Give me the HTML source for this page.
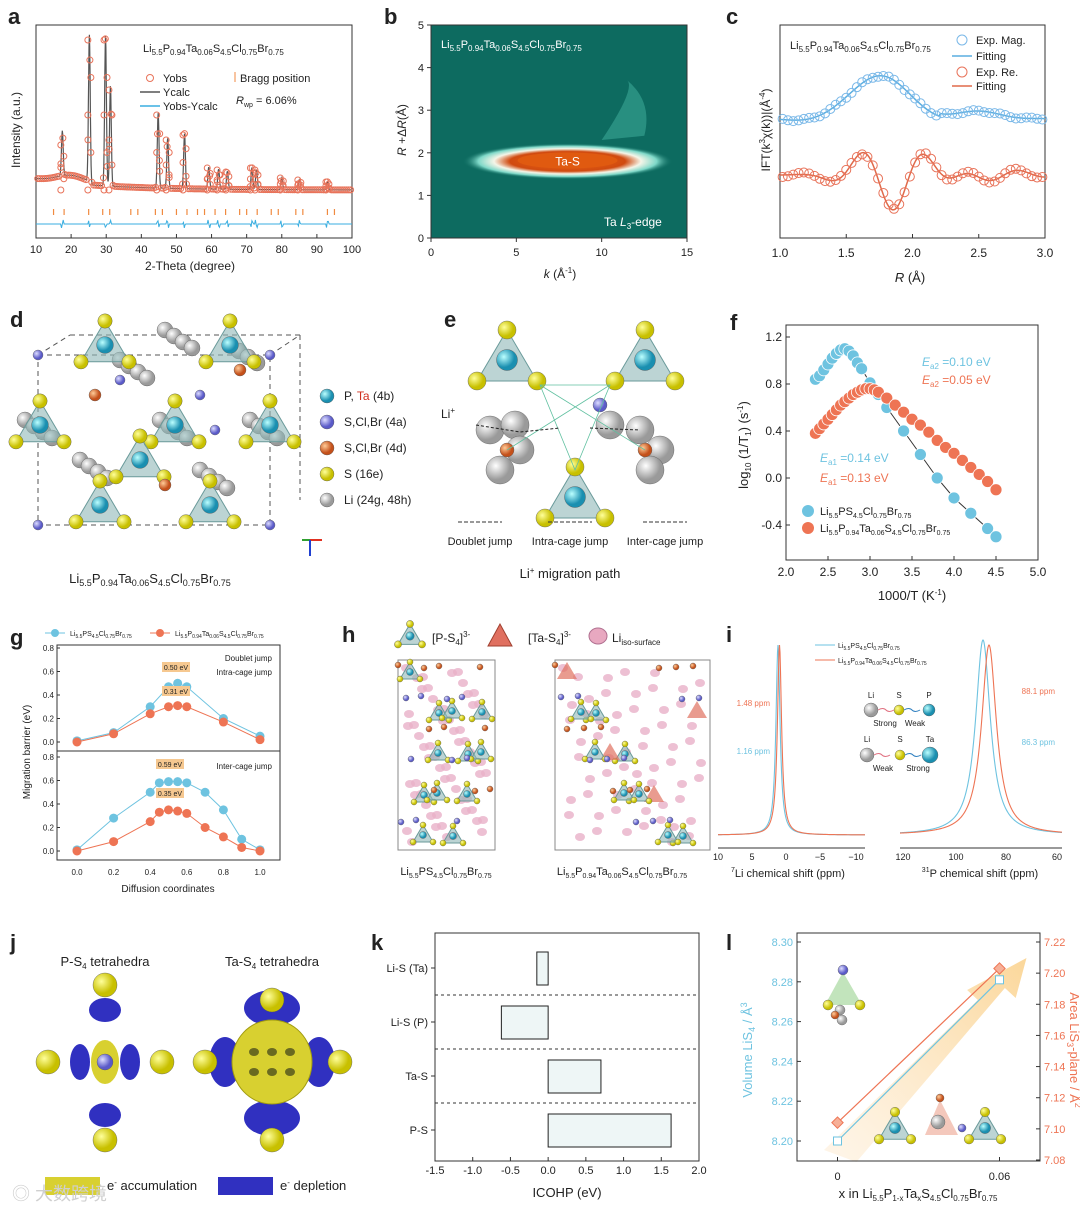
<!DOCTYPE html>
<html><head><meta charset="utf-8"><style>
body{margin:0;background:#fff;}
svg{font-family:"Liberation Sans",sans-serif;display:block;}
text{fill:#222;}
</style></head><body>
<svg id="fig" width="1080" height="1213" viewBox="0 0 1080 1213" xmlns="http://www.w3.org/2000/svg">
<defs>
<radialGradient id="gS" cx="35%" cy="35%"><stop offset="0" stop-color="#fff"/><stop offset="1" stop-color="#9a9a9a"/></radialGradient>
<radialGradient id="gY" cx="35%" cy="35%"><stop offset="0" stop-color="#ffff9a"/><stop offset="1" stop-color="#c8c000"/></radialGradient>
<radialGradient id="gB" cx="35%" cy="35%"><stop offset="0" stop-color="#bff"/><stop offset="1" stop-color="#1a8fb0"/></radialGradient>
<radialGradient id="gP" cx="35%" cy="35%"><stop offset="0" stop-color="#ddf"/><stop offset="1" stop-color="#5a5ac8"/></radialGradient>
<radialGradient id="gO" cx="35%" cy="35%"><stop offset="0" stop-color="#fc9"/><stop offset="1" stop-color="#c4501a"/></radialGradient>
<radialGradient id="gHot" cx="50%" cy="50%"><stop offset="0" stop-color="#f06a10"/><stop offset="0.55" stop-color="#d04a10"/><stop offset="0.7" stop-color="#f5f5e8"/><stop offset="0.85" stop-color="#7ed8c8"/><stop offset="1" stop-color="#0e6e62" stop-opacity="0"/></radialGradient>
<linearGradient id="gArrow" x1="0" y1="1" x2="1" y2="0"><stop offset="0" stop-color="#fde7c8" stop-opacity="0.4"/><stop offset="1" stop-color="#fbd79a"/></linearGradient>
</defs>
<g id="root"></g>
</svg>
<script>
// ===== chart data =====
const xrdPeakPos=[17.5,25.2,29.8,31.2,44.8,47.5,52.3,59.2,62.0,64.5,71.5,72.8,80,85,93];
const xrdPeakH=[45,150,150,100,75,50,55,22,20,18,22,20,12,10,8];
const braggPos=[15,18,25,29,31,37,39,44,46,50,53,56,58,61,64,68,70,73,77,79,84,86,93,95];
const fXBlue=[2.35,2.4,2.45,2.5,2.55,2.6,2.65,2.7,2.75,2.8,2.85,2.9,3.0,3.1,3.2,3.4,3.6,3.8,4.0,4.2,4.4,4.5];
const fYBlue=[0.84,0.87,0.92,0.97,1.02,1.06,1.09,1.1,1.08,1.04,0.98,0.93,0.81,0.71,0.6,0.4,0.2,0.0,-0.17,-0.3,-0.43,-0.5];
const fXRed=[2.35,2.4,2.45,2.5,2.55,2.6,2.65,2.7,2.75,2.8,2.85,2.9,2.95,3.0,3.05,3.1,3.2,3.3,3.4,3.5,3.6,3.7,3.8,3.9,4.0,4.1,4.2,4.3,4.4,4.5];
const fYRed=[0.38,0.42,0.46,0.5,0.54,0.58,0.62,0.65,0.68,0.71,0.73,0.75,0.76,0.76,0.75,0.73,0.68,0.62,0.56,0.5,0.45,0.39,0.32,0.26,0.21,0.15,0.09,0.03,-0.03,-0.1];
const gX=[0,0.2,0.4,0.5,0.55,0.6,0.8,1.0];
const gTopBlue=[0.01,0.08,0.3,0.47,0.5,0.47,0.2,0.05];
const gTopRed=[0.0,0.07,0.24,0.3,0.31,0.3,0.17,0.02];
const gBX=[0,0.2,0.4,0.45,0.5,0.55,0.6,0.7,0.8,0.9,1.0];
const gBotBlue=[0.01,0.28,0.5,0.58,0.59,0.59,0.58,0.5,0.35,0.1,0.01];
const gBotRed=[0.0,0.08,0.25,0.33,0.35,0.34,0.32,0.2,0.12,0.03,0.0];
const kLabels=["Li-S (Ta)","Li-S (P)","Ta-S","P-S"];
const kValues=[-0.15,-0.62,0.7,1.63];
const kTicks=[-1.5,-1.0,-0.5,0.0,0.5,1.0,1.5,2.0];
const lX=[0,0.06];
const lVol=[8.2,8.281];
const lArea=[7.104,7.203];

const root=document.getElementById('root');
const NS='http://www.w3.org/2000/svg';
function mk(tag,attrs,parent){const e=document.createElementNS(NS,tag);for(const k in attrs)e.setAttribute(k,attrs[k]);(parent||root).appendChild(e);return e;}
function tx(x,y,s,size,opt){opt=opt||{};const e=mk('text',Object.assign({x:x,y:y,'font-size':size},opt));e.innerHTML=s;return e;}
function lin(a,b,c,d){return v=>c+(v-a)*(d-c)/(b-a);}
function label(L,x,y){const e=tx(x,y,L,22,{'font-weight':'bold'});}
function frame(x,y,w,h,name){const e=mk('rect',{x:x,y:y,width:w,height:h,fill:'none',stroke:'#333','stroke-width':1});}
function atom(cx,cy,r,g){mk('circle',{cx:cx,cy:cy,r:r,fill:'url(#'+g+')',stroke:'#555','stroke-width':0.4});}
function tet(cx,cy,s){mk('polygon',{points:`${cx},${cy-s} ${cx-s},${cy+s*0.7} ${cx+s},${cy+s*0.7}`,fill:'#8fb8b8','fill-opacity':0.6,stroke:'#6a9a9a'});atom(cx,cy,s*0.35,'gB');atom(cx,cy-s,s*0.3,'gY');atom(cx-s,cy+s*0.7,s*0.3,'gY');atom(cx+s,cy+s*0.7,s*0.3,'gY');}

// ===== panel a =====
label('a',8,24);
(function(){const X=lin(10,100,36,352),x0=36,y0=25,w=316,h=213;frame(x0,y0,w,h,'panel-a-frame');
for(let v=10;v<=100;v+=10){mk('line',{x1:X(v),y1:238,x2:X(v),y2:234,stroke:'#333'});tx(X(v),253,v,11,{'text-anchor':'middle'});}
tx(190,270,'2-Theta (degree)',12,{'text-anchor':'middle'});
tx(20,130,'Intensity (a.u.)',12,{'text-anchor':'middle',transform:'rotate(-90 20 130)'});
function prof(t){let y=190-10*Math.exp(-(t-12)/20)+ (t<25?-8*Math.exp(-Math.pow((t-20)/6,2)):0);xrdPeakPos.forEach((p,i)=>{y-=xrdPeakH[i]*Math.exp(-Math.pow((t-p)/0.35,2));});return y;}
let d='';for(let t=10;t<=100;t+=0.1){d+=(t===10?'M':'L')+X(t).toFixed(1)+','+prof(t).toFixed(1);}
const pc=mk('path',{d:d,fill:'none',stroke:'#555','stroke-width':1.2});
for(let t=10.5;t<100;t+=0.55){mk('circle',{cx:X(t),cy:prof(t),r:3,fill:'none',stroke:'#e8735a','stroke-width':1});}
xrdPeakPos.forEach((p,i)=>{for(let k=0;k<5;k++){mk('circle',{cx:X(p)+(k%2?1.5:-1.5),cy:190-xrdPeakH[i]*k/4,r:3,fill:'none',stroke:'#e8735a'});}});
braggPos.forEach(p=>{mk('line',{x1:X(p),y1:209,x2:X(p),y2:215,stroke:'#f08a40','stroke-width':1.2});});
let dd='';for(let t=10;t<=100;t+=0.25){let off=0;xrdPeakPos.forEach(p=>{if(Math.abs(t-p)<0.3)off=4*Math.sin(t*7);});dd+=(t===10?'M':'L')+X(t).toFixed(1)+','+(224+off).toFixed(1);}
const dl=mk('path',{d:dd,fill:'none',stroke:'#3aaee0','stroke-width':1});
tx(143,52,'Li<tspan font-size="8" dy="3">5.5</tspan><tspan dy="-3">P</tspan><tspan font-size="8" dy="3">0.94</tspan><tspan dy="-3">Ta</tspan><tspan font-size="8" dy="3">0.06</tspan><tspan dy="-3">S</tspan><tspan font-size="8" dy="3">4.5</tspan><tspan dy="-3">Cl</tspan><tspan font-size="8" dy="3">0.75</tspan><tspan dy="-3">Br</tspan><tspan font-size="8" dy="3">0.75</tspan>',11);
mk('circle',{cx:150,cy:78,r:3.5,fill:'none',stroke:'#e8735a'});tx(163,82,'Yobs',11);
mk('line',{x1:140,y1:92,x2:160,y2:92,stroke:'#555','stroke-width':1.5});tx(163,96,'Ycalc',11);
mk('line',{x1:140,y1:106,x2:160,y2:106,stroke:'#3aaee0','stroke-width':1.5});tx(163,110,'Yobs-Ycalc',11);
mk('line',{x1:235,y1:72,x2:235,y2:82,stroke:'#f08a40'});tx(240,82,'Bragg position',11);
tx(236,104,'<tspan font-style="italic">R</tspan><tspan font-size="7" dy="3">wp</tspan><tspan dy="-3"> = 6.06%</tspan>',11);
})();

// ===== panel b =====
label('b',384,24);
(function(){const X=lin(0,15,431,687),Y=lin(0,5,238,25);
const bg=mk('rect',{x:431,y:25,width:256,height:213,fill:'#0d6b60'});
mk('path',{d:`M${X(10)},${Y(2.3)} Q${X(12)},${Y(3.5)} ${X(11.5)},${Y(3.7)} Q${X(13)},${Y(3.2)} ${X(12.5)},${Y(2.4)} Z`,fill:'#3aa696','fill-opacity':0.6});
mk('ellipse',{cx:X(8),cy:Y(1.8),rx:105,ry:18,fill:'url(#gHot)'});
mk('ellipse',{cx:X(8),cy:Y(1.82),rx:50,ry:8,fill:'#e05a10'});
tx(X(8),Y(1.7),'Ta-S',12,{'text-anchor':'middle',fill:'#fff',style:'fill:#fff'});
frame(431,25,256,213,'panel-b-frame');
for(let v=0;v<=15;v+=5){mk('line',{x1:X(v),y1:238,x2:X(v),y2:242,stroke:'#333'});tx(X(v),256,v,11,{'text-anchor':'middle'});}
for(let v=0;v<=5;v++){mk('line',{x1:427,y1:Y(v),x2:431,y2:Y(v),stroke:'#333'});tx(424,Y(v)+4,v,11,{'text-anchor':'end'});}
tx(560,278,'<tspan font-style="italic">k</tspan> (Å<tspan font-size="8" dy="-5">-1</tspan><tspan dy="5">)</tspan>',12,{'text-anchor':'middle'});
tx(406,130,'<tspan font-style="italic">R</tspan> +Δ<tspan font-style="italic">R</tspan>(Å)',12,{'text-anchor':'middle',transform:'rotate(-90 406 130)'});
tx(441,48,'Li<tspan font-size="8" dy="3">5.5</tspan><tspan dy="-3">P</tspan><tspan font-size="8" dy="3">0.94</tspan><tspan dy="-3">Ta</tspan><tspan font-size="8" dy="3">0.06</tspan><tspan dy="-3">S</tspan><tspan font-size="8" dy="3">4.5</tspan><tspan dy="-3">Cl</tspan><tspan font-size="8" dy="3">0.75</tspan><tspan dy="-3">Br</tspan><tspan font-size="8" dy="3">0.75</tspan>',11,{style:'fill:#fff'});
tx(604,226,'Ta <tspan font-style="italic">L</tspan><tspan font-size="8" dy="3">3</tspan><tspan dy="-3">-edge</tspan>',12,{style:'fill:#fff'});
})();

// ===== panel c =====
label('c',726,24);
(function(){const X=lin(1,3,780,1045);frame(780,25,265,213,'panel-c-frame');
for(let v=1;v<=3.001;v+=0.5){mk('line',{x1:X(v),y1:238,x2:X(v),y2:234,stroke:'#333'});tx(X(v),257,v.toFixed(1),12,{'text-anchor':'middle'});}
tx(910,282,'<tspan font-style="italic">R</tspan> (Å)',13,{'text-anchor':'middle'});
tx(770,130,'IFT(k<tspan font-size="8" dy="-5">3</tspan><tspan dy="5">χ(k))|(Å</tspan><tspan font-size="8" dy="-5">-4</tspan><tspan dy="5">)</tspan>',12,{'text-anchor':'middle',transform:'rotate(-90 770 130)'});
const mag=r=>120-45*Math.exp(-Math.pow((r-1.75)/0.3,2))+3*Math.sin(r*12)*0.3+(r>2.2?-8*Math.exp(-Math.pow((r-2.5)/0.3,2)):0);
const re=r=>175-Math.sin((r-1.48)*Math.PI/0.25*1.0)*35*Math.exp(-Math.pow((r-1.85)/0.35,2))-6*Math.sin(r*14)*Math.exp(-Math.pow((r-2.6)/0.4,2));
let d1='',d2='';for(let r=1;r<=3;r+=0.01){d1+=(r===1?'M':'L')+X(r)+','+mag(r);d2+=(r===1?'M':'L')+X(r)+','+re(r);}
const m=mk('path',{d:d1,fill:'none',stroke:'#5aaee0','stroke-width':1.5});
const rr=mk('path',{d:d2,fill:'none',stroke:'#e06a4a','stroke-width':1.5});
for(let r=1.02;r<3;r+=0.04){mk('circle',{cx:X(r),cy:mag(r)+Math.sin(r*30),r:4.5,fill:'none',stroke:'#7ab8e8'});mk('circle',{cx:X(r),cy:re(r)+Math.sin(r*20)*2,r:4.5,fill:'none',stroke:'#e8735a'});}
tx(790,49,'Li<tspan font-size="8" dy="3">5.5</tspan><tspan dy="-3">P</tspan><tspan font-size="8" dy="3">0.94</tspan><tspan dy="-3">Ta</tspan><tspan font-size="8" dy="3">0.06</tspan><tspan dy="-3">S</tspan><tspan font-size="8" dy="3">4.5</tspan><tspan dy="-3">Cl</tspan><tspan font-size="8" dy="3">0.75</tspan><tspan dy="-3">Br</tspan><tspan font-size="8" dy="3">0.75</tspan>',11);
mk('circle',{cx:962,cy:40,r:5,fill:'none',stroke:'#7ab8e8'});tx(976,44,'Exp. Mag.',11);
mk('line',{x1:952,y1:56,x2:972,y2:56,stroke:'#5aaee0','stroke-width':1.5});tx(976,60,'Fitting',11);
mk('circle',{cx:962,cy:72,r:5,fill:'none',stroke:'#e8735a'});tx(976,76,'Exp. Re.',11);
mk('line',{x1:952,y1:86,x2:972,y2:86,stroke:'#e06a4a','stroke-width':1.5});tx(976,90,'Fitting',11);
})();

// ===== panel d =====
label('d',10,327);
(function(){mk('path',{d:'M38,355 L270,355 L270,525 L38,525 Z M70,335 L300,335 M38,355 L70,335 M270,355 L300,335 M300,335 L300,500',fill:'none',stroke:'#555','stroke-dasharray':'5,4'});
[[140,360],[185,330],[250,345],[180,420],[100,460],[220,470],[45,420],[270,420]].forEach(p=>{for(let k=0;k<4;k++)atom(p[0]-20+k*9,p[1]+k*6,8,'gS');});
[[105,345],[230,345],[175,425],[40,425],[270,425],[100,505],[210,505],[140,460]].forEach(p=>tet(p[0],p[1],24));
[[38,355],[270,355],[38,525],[270,525],[200,395],[120,380],[215,430]].forEach(p=>atom(p[0],p[1],5,'gP'));
[[95,395],[240,370],[165,485]].forEach(p=>atom(p[0],p[1],6,'gO'));
const items=[['gB','P, <tspan fill="#d03020" style="fill:#d03020">Ta</tspan> (4b)'],['gP','S,Cl,Br (4a)'],['gO','S,Cl,Br (4d)'],['gY','S (16e)'],['gS','Li (24g, 48h)']];
items.forEach((it,i)=>{atom(327,396+i*26,7,it[0]);tx(344,400+i*26,it[1],12);});
mk('line',{x1:310,y1:540,x2:322,y2:540,stroke:'#e03020','stroke-width':2});mk('line',{x1:310,y1:540,x2:302,y2:540,stroke:'#30a030','stroke-width':2});mk('line',{x1:310,y1:540,x2:310,y2:556,stroke:'#2040d0','stroke-width':2});
tx(150,583,'Li<tspan font-size="9" dy="3">5.5</tspan><tspan dy="-3">P</tspan><tspan font-size="9" dy="3">0.94</tspan><tspan dy="-3">Ta</tspan><tspan font-size="9" dy="3">0.06</tspan><tspan dy="-3">S</tspan><tspan font-size="9" dy="3">4.5</tspan><tspan dy="-3">Cl</tspan><tspan font-size="9" dy="3">0.75</tspan><tspan dy="-3">Br</tspan><tspan font-size="9" dy="3">0.75</tspan>',13,{'text-anchor':'middle'});
})();

// ===== panel e =====
label('e',444,327);
(function(){tet(507,360,30);tet(645,360,30);tet(575,497,30);
[[490,430],[515,425],[520,450],[640,430],[610,425],[660,450],[500,470],[650,470]].forEach(p=>atom(p[0],p[1],14,'gS'));
atom(507,450,7,'gO');atom(645,450,7,'gO');atom(600,405,7,'gP');
mk('path',{d:'M540,385 L610,385 L575,470 Z M540,385 L645,450 M610,385 L507,450',fill:'none',stroke:'#60c0a0','stroke-width':0.8});
tx(441,418,'Li<tspan font-size="8" dy="-5">+</tspan>',12);
mk('path',{d:'M476,425 L520,432 L560,428 M590,428 L640,430',fill:'none',stroke:'#222','stroke-dasharray':'3,2'});
[['Doublet jump',480],['Intra-cage jump',570],['Inter-cage jump',665]].forEach(a=>{mk('line',{x1:a[1]-22,y1:522,x2:a[1]+22,y2:522,stroke:'#333','stroke-dasharray':'4,2'});tx(a[1],545,a[0],11,{'text-anchor':'middle'});});
tx(570,578,'Li<tspan font-size="8" dy="-5">+</tspan><tspan dy="5"> migration path</tspan>',13,{'text-anchor':'middle'});
})();

// ===== panel f =====
label('f',730,330);
(function(){const X=lin(2,5,786,1038),Y=lin(-0.4,1.2,525,337);frame(786,325,252,235,'panel-f-frame');
for(let v=2;v<=5.001;v+=0.5){mk('line',{x1:X(v),y1:560,x2:X(v),y2:556,stroke:'#333'});tx(X(v),568+8,v.toFixed(1),12,{'text-anchor':'middle'});}
for(let v=-0.4;v<=1.201;v+=0.4){mk('line',{x1:786,y1:Y(v),x2:790,y2:Y(v),stroke:'#333'});tx(782,Y(v)+4,Math.abs(v)<1e-6?'0.0':v.toFixed(1),12,{'text-anchor':'end'});}
tx(912,600,'1000/T (K<tspan font-size="8" dy="-5">-1</tspan><tspan dy="5">)</tspan>',13,{'text-anchor':'middle'});
tx(748,445,'log<tspan font-size="8" dy="3">10</tspan><tspan dy="-3"> (1/T</tspan><tspan font-size="8" dy="3">1</tspan><tspan dy="-3">) (s</tspan><tspan font-size="8" dy="-5">-1</tspan><tspan dy="5">)</tspan>',13,{'text-anchor':'middle',transform:'rotate(-90 748 445)'});
function series(xs,ys,col,name){let d='';xs.forEach((x,i)=>{d+=(i?'L':'M')+X(x)+','+Y(ys[i]);});const p=mk('path',{d:d,fill:'none',stroke:'#333','stroke-width':1});
xs.forEach((x,i)=>{const c=mk('circle',{cx:X(x),cy:Y(ys[i]),r:6,fill:col,stroke:'#fff','stroke-width':0.8});});}
series(fXBlue,fYBlue,'#6ec3e0','blue-series');series(fXRed,fYRed,'#ee7454','red-series');
tx(922,366,'<tspan font-style="italic">E</tspan><tspan font-size="8" dy="3">a2</tspan><tspan dy="-3"> =0.10 eV</tspan>',12,{style:'fill:#6ec3e0'});
tx(922,384,'<tspan font-style="italic">E</tspan><tspan font-size="8" dy="3">a2</tspan><tspan dy="-3"> =0.05 eV</tspan>',12,{style:'fill:#ee7454'});
tx(820,462,'<tspan font-style="italic">E</tspan><tspan font-size="8" dy="3">a1</tspan><tspan dy="-3"> =0.14 eV</tspan>',12,{style:'fill:#6ec3e0'});
tx(820,482,'<tspan font-style="italic">E</tspan><tspan font-size="8" dy="3">a1</tspan><tspan dy="-3"> =0.13 eV</tspan>',12,{style:'fill:#ee7454'});
mk('circle',{cx:808,cy:511,r:6,fill:'#6ec3e0'});tx(820,515,'Li<tspan font-size="7" dy="3">5.5</tspan><tspan dy="-3">PS</tspan><tspan font-size="7" dy="3">4.5</tspan><tspan dy="-3">Cl</tspan><tspan font-size="7" dy="3">0.75</tspan><tspan dy="-3">Br</tspan><tspan font-size="7" dy="3">0.75</tspan>',11);
mk('circle',{cx:808,cy:528,r:6,fill:'#ee7454'});tx(820,532,'Li<tspan font-size="7" dy="3">5.5</tspan><tspan dy="-3">P</tspan><tspan font-size="7" dy="3">0.94</tspan><tspan dy="-3">Ta</tspan><tspan font-size="7" dy="3">0.06</tspan><tspan dy="-3">S</tspan><tspan font-size="7" dy="3">4.5</tspan><tspan dy="-3">Cl</tspan><tspan font-size="7" dy="3">0.75</tspan><tspan dy="-3">Br</tspan><tspan font-size="7" dy="3">0.75</tspan>',11);
})();

// ===== panel g =====
label('g',10,645);
(function(){const X=lin(0,1,77,260);frame(57,645,223,215,'panel-g-frame');mk('line',{x1:57,y1:751,x2:280,y2:751,stroke:'#333'});
const Yt=lin(0,0.8,742,648),Yb=lin(0,0.8,851,757);
[Yt,Yb].forEach(Y=>{for(let v=0;v<=0.801;v+=0.2){mk('line',{x1:57,y1:Y(v),x2:60,y2:Y(v),stroke:'#333'});tx(54,Y(v)+3,v.toFixed(1),8,{'text-anchor':'end'});}});
for(let v=0;v<=1.001;v+=0.2){tx(X(v),875,v.toFixed(1),8,{'text-anchor':'middle'});}
tx(168,892,'Diffusion coordinates',10,{'text-anchor':'middle'});
tx(30,752,'Migration barrier (eV)',10,{'text-anchor':'middle',transform:'rotate(-90 30 752)'});
function s(xs,ys,Y,col,name){let d='';xs.forEach((x,i)=>{d+=(i?'L':'M')+X(x)+','+Y(ys[i]);});mk('path',{d:d,fill:'none',stroke:col,'stroke-width':1});xs.forEach((x,i)=>{const c=mk('circle',{cx:X(x),cy:Y(ys[i]),r:4.5,fill:col});});}
s(gX,gTopBlue,Yt,'#6ec3e0','g-top-blue-point');s(gX,gTopRed,Yt,'#ee7454','g-top-red-point');
s(gBX,gBotBlue,Yb,'#6ec3e0','g-bottom-blue-point');s(gBX,gBotRed,Yb,'#ee7454','g-bottom-red-point');
[[176,670,'0.50 eV'],[176,694,'0.31 eV'],[170,767,'0.59 eV'],[170,796,'0.35 eV']].forEach(b=>{mk('rect',{x:b[0]-14,y:b[1]-8,width:28,height:10,fill:'#f6c890'});tx(b[0],b[1],b[2],7,{'text-anchor':'middle'});});
tx(272,661,'Doublet jump',8,{'text-anchor':'end'});tx(272,675,'Intra-cage jump',8,{'text-anchor':'end'});tx(272,769,'Inter-cage jump',8,{'text-anchor':'end'});
mk('line',{x1:45,y1:633,x2:65,y2:633,stroke:'#6ec3e0'});mk('circle',{cx:55,cy:633,r:4,fill:'#6ec3e0'});tx(70,636,'Li<tspan font-size="5" dy="2">5.5</tspan><tspan dy="-2">PS</tspan><tspan font-size="5" dy="2">4.5</tspan><tspan dy="-2">Cl</tspan><tspan font-size="5" dy="2">0.75</tspan><tspan dy="-2">Br</tspan><tspan font-size="5" dy="2">0.75</tspan>',7);
mk('line',{x1:150,y1:633,x2:170,y2:633,stroke:'#ee7454'});mk('circle',{cx:160,cy:633,r:4,fill:'#ee7454'});tx(175,636,'Li<tspan font-size="5" dy="2">5.5</tspan><tspan dy="-2">P</tspan><tspan font-size="5" dy="2">0.94</tspan><tspan dy="-2">Ta</tspan><tspan font-size="5" dy="2">0.06</tspan><tspan dy="-2">S</tspan><tspan font-size="5" dy="2">4.5</tspan><tspan dy="-2">Cl</tspan><tspan font-size="5" dy="2">0.75</tspan><tspan dy="-2">Br</tspan><tspan font-size="5" dy="2">0.75</tspan>',7);
})();

// ===== panel h =====
label('h',342,642);
(function(){tet(410,636,12);tx(432,642,'[P-S<tspan font-size="8" dy="3">4</tspan><tspan dy="-3">]</tspan><tspan font-size="8" dy="-5">3-</tspan>',12);
mk('polygon',{points:'500,624 488,646 512,646',fill:'#e07060',stroke:'#a04030'});tx(528,642,'[Ta-S<tspan font-size="8" dy="3">4</tspan><tspan dy="-3">]</tspan><tspan font-size="8" dy="-5">3-</tspan>',12);
mk('ellipse',{cx:598,cy:636,rx:9,ry:8,fill:'#e8a8c0',stroke:'#b07090'});tx(612,642,'Li<tspan font-size="8" dy="3">iso-surface</tspan>',12);
[[398,495],[555,710]].forEach((b,j)=>{mk('rect',{x:b[0],y:660,width:b[1]-b[0],height:190,fill:'none',stroke:'#888'});
for(let i=0;i<60;i++){const x=b[0]+8+((i*37)%(b[1]-b[0]-16)),y=668+((i*53)%175);mk('ellipse',{cx:x,cy:y,rx:5,ry:4,fill:'#e8b0c8','fill-opacity':0.8});}
for(let i=0;i<12;i++){const x=b[0]+12+((i*29)%(b[1]-b[0]-24)),y=672+((i*41)%165);if(j===1&&i%3===0)mk('polygon',{points:`${x},${y-10} ${x-10},${y+7} ${x+10},${y+7}`,fill:'#e07060','fill-opacity':0.7});else tet(x,y,10);}
for(let i=0;i<20;i++){atom(b[0]+((i*23)%(b[1]-b[0])),665+((i*31)%185),3,i%2?'gP':'gO');}});
tx(446,875,'Li<tspan font-size="7" dy="3">5.5</tspan><tspan dy="-3">PS</tspan><tspan font-size="7" dy="3">4.5</tspan><tspan dy="-3">Cl</tspan><tspan font-size="7" dy="3">0.75</tspan><tspan dy="-3">Br</tspan><tspan font-size="7" dy="3">0.75</tspan>',11,{'text-anchor':'middle'});
tx(622,875,'Li<tspan font-size="7" dy="3">5.5</tspan><tspan dy="-3">P</tspan><tspan font-size="7" dy="3">0.94</tspan><tspan dy="-3">Ta</tspan><tspan font-size="7" dy="3">0.06</tspan><tspan dy="-3">S</tspan><tspan font-size="7" dy="3">4.5</tspan><tspan dy="-3">Cl</tspan><tspan font-size="7" dy="3">0.75</tspan><tspan dy="-3">Br</tspan><tspan font-size="7" dy="3">0.75</tspan>',11,{'text-anchor':'middle'});
})();

// ===== panel i =====
label('i',726,642);
(function(){const base=835;
function pk(x0,x1,c,w,h,col){let d='';for(let x=x0;x<=x1;x+=0.5){d+=(x===x0?'M':'L')+x+','+(base-h/(1+Math.pow((x-c)/w,2)));}mk('path',{d:d,fill:'none',stroke:col,'stroke-width':1.1});}
pk(718,865,778,2.5,190,'#6ec3e0');pk(718,865,779.5,2.5,190,'#ee7454');
pk(900,1062,983,9,195,'#6ec3e0');pk(900,1062,989,9,190,'#ee7454');
mk('line',{x1:718,y1:848,x2:865,y2:848,stroke:'#333'});mk('line',{x1:900,y1:848,x2:1062,y2:848,stroke:'#333'});
[[718,'10'],[752,'5'],[786,'0'],[820,'−5'],[856,'−10']].forEach(t=>tx(t[0],860,t[1],9,{'text-anchor':'middle'}));
[[903,'120'],[956,'100'],[1006,'80'],[1057,'60']].forEach(t=>tx(t[0],860,t[1],9,{'text-anchor':'middle'}));
tx(788,877,'<tspan font-size="7" dy="-5">7</tspan><tspan dy="5">Li chemical shift (ppm)</tspan>',11,{'text-anchor':'middle'});
tx(980,877,'<tspan font-size="7" dy="-5">31</tspan><tspan dy="5">P chemical shift (ppm)</tspan>',11,{'text-anchor':'middle'});
tx(770,706,'1.48 ppm',8,{'text-anchor':'end',style:'fill:#ee7454'});tx(770,754,'1.16 ppm',8,{'text-anchor':'end',style:'fill:#6ec3e0'});
tx(1055,694,'88.1 ppm',8,{'text-anchor':'end',style:'fill:#ee7454'});tx(1055,745,'86.3 ppm',8,{'text-anchor':'end',style:'fill:#6ec3e0'});
mk('line',{x1:815,y1:645,x2:835,y2:645,stroke:'#6ec3e0'});tx(838,648,'Li<tspan font-size="5" dy="2">5.5</tspan><tspan dy="-2">PS</tspan><tspan font-size="5" dy="2">4.5</tspan><tspan dy="-2">Cl</tspan><tspan font-size="5" dy="2">0.75</tspan><tspan dy="-2">Br</tspan><tspan font-size="5" dy="2">0.75</tspan>',7);
mk('line',{x1:815,y1:660,x2:835,y2:660,stroke:'#ee7454'});tx(838,663,'Li<tspan font-size="5" dy="2">5.5</tspan><tspan dy="-2">P</tspan><tspan font-size="5" dy="2">0.94</tspan><tspan dy="-2">Ta</tspan><tspan font-size="5" dy="2">0.06</tspan><tspan dy="-2">S</tspan><tspan font-size="5" dy="2">4.5</tspan><tspan dy="-2">Cl</tspan><tspan font-size="5" dy="2">0.75</tspan><tspan dy="-2">Br</tspan><tspan font-size="5" dy="2">0.75</tspan>',7);
atom(871,710,7,'gS');atom(899,710,5,'gY');atom(929,710,6,'gB');mk('path',{d:'M878,710 q5,-3 8,0 t8,0',stroke:'#e07080',fill:'none'});mk('path',{d:'M904,710 q5,-3 8,0 t8,0',stroke:'#3080c0',fill:'none'});
tx(871,698,'Li',8,{'text-anchor':'middle'});tx(899,698,'S',8,{'text-anchor':'middle'});tx(929,698,'P',8,{'text-anchor':'middle'});tx(885,726,'Strong',8,{'text-anchor':'middle'});tx(915,726,'Weak',8,{'text-anchor':'middle'});
atom(867,755,7,'gS');atom(900,755,5,'gY');atom(930,755,8,'gB');mk('path',{d:'M874,755 q5,-3 8,0 t8,0',stroke:'#e07080',fill:'none'});mk('path',{d:'M905,755 q5,-3 8,0 t8,0',stroke:'#3080c0',fill:'none'});
tx(867,742,'Li',8,{'text-anchor':'middle'});tx(900,742,'S',8,{'text-anchor':'middle'});tx(930,742,'Ta',8,{'text-anchor':'middle'});tx(883,771,'Weak',8,{'text-anchor':'middle'});tx(918,771,'Strong',8,{'text-anchor':'middle'});
})();

// ===== panel j =====
label('j',10,950);
(function(){tx(105,966,'P-S<tspan font-size="8" dy="3">4</tspan><tspan dy="-3"> tetrahedra</tspan>',13,{'text-anchor':'middle'});
tx(272,966,'Ta-S<tspan font-size="8" dy="3">4</tspan><tspan dy="-3"> tetrahedra</tspan>',13,{'text-anchor':'middle'});
mk('ellipse',{cx:105,cy:1010,rx:16,ry:12,fill:'#3030c0'});mk('ellipse',{cx:105,cy:1115,rx:16,ry:12,fill:'#3030c0'});mk('ellipse',{cx:80,cy:1062,rx:10,ry:18,fill:'#3030c0'});mk('ellipse',{cx:130,cy:1062,rx:10,ry:18,fill:'#3030c0'});
mk('ellipse',{cx:105,cy:1062,rx:14,ry:22,fill:'#d8d030'});atom(105,1062,8,'gP');
[[105,985],[105,1140],[48,1062],[162,1062]].forEach(p=>atom(p[0],p[1],12,'gY'));
mk('ellipse',{cx:272,cy:1008,rx:28,ry:18,fill:'#3030c0'});mk('ellipse',{cx:272,cy:1118,rx:28,ry:18,fill:'#3030c0'});mk('ellipse',{cx:225,cy:1062,rx:16,ry:25,fill:'#3030c0'});mk('ellipse',{cx:319,cy:1062,rx:16,ry:25,fill:'#3030c0'});
mk('ellipse',{cx:272,cy:1062,rx:40,ry:42,fill:'#d8d030',stroke:'#a09a10'});
for(let i=0;i<6;i++)mk('ellipse',{cx:254+(i%3)*18,cy:1052+Math.floor(i/3)*20,rx:5,ry:4,fill:'#6a6a20'});
[[272,1000],[272,1140],[205,1062],[340,1062]].forEach(p=>atom(p[0],p[1],12,'gY'));
mk('rect',{x:45,y:1177,width:55,height:18,fill:'#d8d030'});tx(107,1190,'e<tspan font-size="8" dy="-5">-</tspan><tspan dy="5"> accumulation</tspan>',13);
mk('rect',{x:218,y:1177,width:55,height:18,fill:'#3030c0'});tx(280,1190,'e<tspan font-size="8" dy="-5">-</tspan><tspan dy="5"> depletion</tspan>',13);
})();

// ===== panel k =====
label('k',371,950);
(function(){const X=lin(-1.5,2,435,699),x0=435,y0=933,w=264,h=228;frame(x0,y0,w,h,'panel-k-frame');
[995,1049,1103].forEach(y=>mk('line',{x1:435,y1:y,x2:699,y2:y,stroke:'#333','stroke-dasharray':'3,3'}));
kTicks.forEach(v=>{mk('line',{x1:X(v),y1:1161,x2:X(v),y2:1157,stroke:'#333'});tx(X(v),1174,v.toFixed(1),11,{'text-anchor':'middle'});});
tx(567,1197,'ICOHP (eV)',13,{'text-anchor':'middle'});
kValues.forEach((v,i)=>{const yc=968+i*54;const b=mk('rect',{x:Math.min(X(0),X(v)),y:yc-16,width:Math.abs(X(v)-X(0)),height:33,fill:'#eef6f6',stroke:'#222'});
mk('line',{x1:431,y1:yc,x2:435,y2:yc,stroke:'#333'});tx(428,yc+4,kLabels[i],11,{'text-anchor':'end'});});
})();

// ===== panel l =====
label('l',726,950);
(function(){const X=lin(-0.015,0.075,797,1040),Yv=lin(8.2,8.3,1141,942),Ya=lin(7.08,7.22,1160,942);
mk('polygon',{points:`${X(-0.005)},1150 ${X(0.052)},1000 ${X(0.048)},990 ${X(0.07)},958 ${X(0.066)},998 ${X(0.062)},988 ${X(0.007)},1162`,fill:'url(#gArrow)'});
frame(797,933,243,228,'panel-l-frame');
for(let v=8.2;v<=8.3001;v+=0.02){mk('line',{x1:797,y1:Yv(v),x2:801,y2:Yv(v),stroke:'#333'});tx(793,Yv(v)+4,v.toFixed(2),11,{'text-anchor':'end',style:'fill:#6ec3e0'});}
for(let v=7.08;v<=7.2201;v+=0.02){mk('line',{x1:1036,y1:Ya(v),x2:1040,y2:Ya(v),stroke:'#333'});tx(1044,Ya(v)+4,v.toFixed(2),11,{style:'fill:#ee7454'});}
lX.forEach(v=>{tx(X(v),1180,v===0?'0':v,11,{'text-anchor':'middle'});mk('line',{x1:X(v),y1:1161,x2:X(v),y2:1157,stroke:'#333'});});
tx(918,1198,'x in Li<tspan font-size="8" dy="3">5.5</tspan><tspan dy="-3">P</tspan><tspan font-size="8" dy="3">1-x</tspan><tspan dy="-3">Ta</tspan><tspan font-size="8" dy="3">x</tspan><tspan dy="-3">S</tspan><tspan font-size="8" dy="3">4.5</tspan><tspan dy="-3">Cl</tspan><tspan font-size="8" dy="3">0.75</tspan><tspan dy="-3">Br</tspan><tspan font-size="8" dy="3">0.75</tspan>',13,{'text-anchor':'middle'});
tx(752,1050,'Volume LiS<tspan font-size="9" dy="3">4</tspan><tspan dy="-3"> / Å</tspan><tspan font-size="9" dy="-5">3</tspan>',13,{'text-anchor':'middle',transform:'rotate(-90 752 1050)',style:'fill:#6ec3e0'});
tx(1070,1050,'Area LiS<tspan font-size="9" dy="3">3</tspan><tspan dy="-3">-plane / Å</tspan><tspan font-size="9" dy="-5">2</tspan>',13,{'text-anchor':'middle',transform:'rotate(90 1070 1050)',style:'fill:#ee7454'});
let d1='',d2='';lX.forEach((v,i)=>{d1+=(i?'L':'M')+X(v)+','+Yv(lVol[i]);d2+=(i?'L':'M')+X(v)+','+Ya(lArea[i]);});
mk('path',{d:d1,stroke:'#6ec3e0',fill:'none','stroke-width':1.2});mk('path',{d:d2,stroke:'#ee7454',fill:'none','stroke-width':1.2});
lX.forEach((v,i)=>{const a=mk('rect',{x:X(v)-4,y:Yv(lVol[i])-4,width:8,height:8,fill:'#fff',stroke:'#6ec3e0'});
const b=mk('rect',{x:X(v)-4,y:Ya(lArea[i])-4,width:8,height:8,fill:'#f6b098',stroke:'#ee7454',transform:`rotate(45 ${X(v)} ${Ya(lArea[i])})`});});
mk('polygon',{points:'843,972 825,1005 862,1005',fill:'#a8d8a0','fill-opacity':0.7});atom(843,970,5,'gP');atom(828,1005,5,'gY');atom(860,1005,5,'gY');atom(840,1010,5,'gS');atom(842,1020,5,'gS');atom(835,1015,4,'gO');
tet(895,1128,16);tet(985,1128,16);mk('polygon',{points:'940,1100 925,1135 958,1135',fill:'#f0b0a0','fill-opacity':0.7});atom(938,1122,7,'gS');atom(940,1098,4,'gO');atom(962,1128,4,'gP');
})();

// watermark
tx(12,1200,'◎ 大数跨境',18,{style:'fill:#cfcfcf'});
</script>
</body></html>
